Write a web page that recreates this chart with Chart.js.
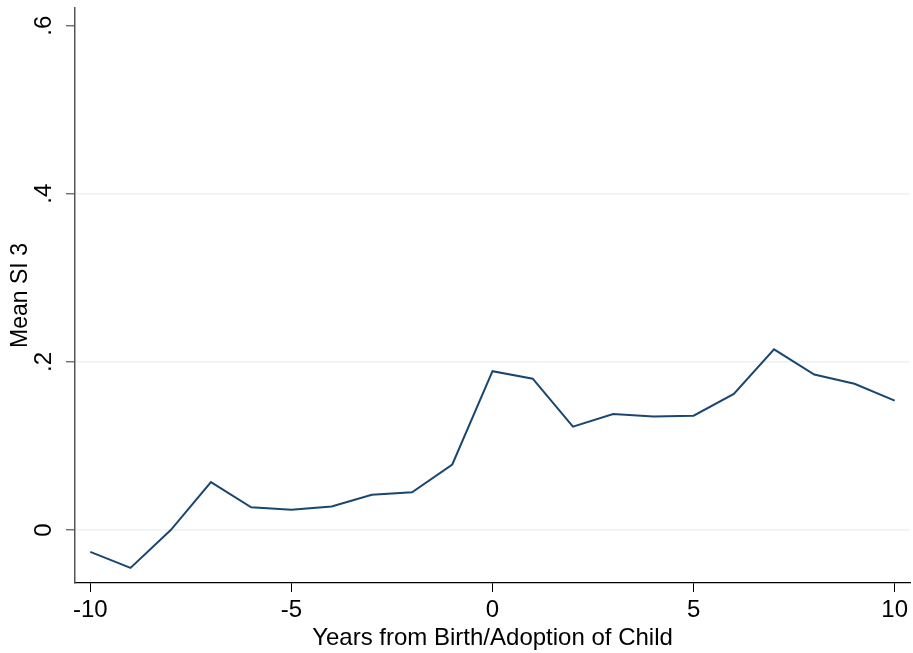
<!DOCTYPE html>
<html>
<head>
<meta charset="utf-8">
<script src="https://cdn.jsdelivr.net/npm/chart.js@4"></script>
<style>
html,body{margin:0;padding:0;background:#fff;}
#wrap{width:913px;height:653px;position:relative;}
</style>
</head>
<body>
<div id="wrap"><canvas id="c"></canvas></div>
<script>
const years = [-10,-9,-8,-7,-6,-5,-4,-3,-2,-1,0,1,2,3,4,5,6,7,8,9,10];
const meanSI3 = [-0.026,-0.045,0.000,0.057,0.027,0.024,0.028,0.042,0.045,0.078,0.189,0.180,0.123,0.138,0.135,0.136,0.162,0.215,0.185,0.174,0.154];
const yTicks = [0, 0.2, 0.4, 0.6];
const yTickLabels = ["0", ".2", ".4", ".6"];
const xTicks = [-10, -5, 0, 5, 10];
const xTickLabels = ["-10", "-5", "0", "5", "10"];

const FONT = "'Liberation Sans', Arial, Helvetica, sans-serif";

new Chart(document.getElementById('c'), {
  type: 'line',
  data: {
    datasets: [{
      data: years.map((x, i) => ({x: x, y: meanSI3[i]})),
      borderColor: '#1a476f',
      borderWidth: 2,
      pointRadius: 0,
      tension: 0,
      fill: false
    }]
  },
  options: {
    responsive: true,
    maintainAspectRatio: false,
    animation: false,
    layout: { padding: { top: 8, right: 3, left: 0, bottom: 0 } },
    plugins: { legend: { display: false }, tooltip: { enabled: false } },
    scales: {
      x: {
        type: 'linear',
        min: -10.38,
        max: 10.38,
        afterBuildTicks: s => { s.ticks = xTicks.map(v => ({value: v})); },
        afterFit: s => { s.height = 70; s.paddingLeft = 0; s.paddingRight = 0; },
        ticks: {
          callback: (v) => xTickLabels[xTicks.indexOf(v)],
          color: '#000',
          font: { family: FONT, size: 24 },
          padding: 4,
          maxRotation: 0,
          autoSkip: false
        },
        grid: { display: true, drawOnChartArea: false, drawTicks: true, tickLength: 9, color: '#000', tickColor: '#000', tickWidth: 1 },
        border: { display: true, color: '#000', width: 1.2 },
        title: { display: true, text: 'Years from Birth/Adoption of Child', color: '#000', font: { family: FONT, size: 24 }, padding: { top: 5, bottom: 0 } }
      },
      y: {
        type: 'linear',
        min: -0.063,
        max: 0.621,
        afterBuildTicks: s => { s.ticks = yTicks.map(v => ({value: v})); },
        afterFit: s => { s.width = 75; s.paddingTop = 0; s.paddingBottom = 0; },
        ticks: {
          callback: (v) => yTickLabels[yTicks.indexOf(v)],
          color: '#000',
          font: { family: FONT, size: 24 },
          padding: 12,
          minRotation: 90,
          maxRotation: 90,
          crossAlign: 'center',
          autoSkip: false
        },
        grid: {
          display: true,
          drawTicks: true,
          tickLength: 9,
          lineWidth: 1.5,
          color: (ctx) => (ctx.tick && ctx.tick.value === 0.6) ? 'rgba(0,0,0,0)' : '#eaf2f3',
          tickColor: '#555',
          tickWidth: 1.2
        },
        border: { display: true, color: '#555', width: 1.5 },
        title: { display: true, text: 'Mean SI 3', color: '#000', font: { family: FONT, size: 23 }, padding: { top: 7, bottom: 0 } }
      }
    }
  }
});
</script>
</body>
</html>
